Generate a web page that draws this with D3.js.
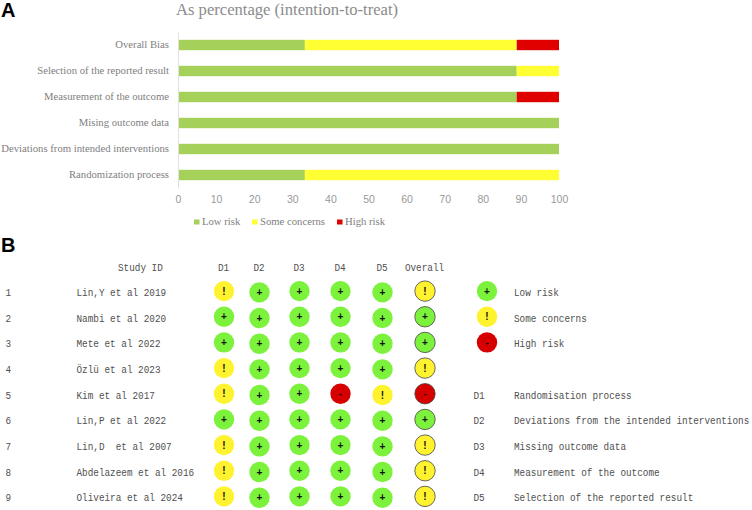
<!DOCTYPE html>
<html>
<head>
<meta charset="utf-8">
<script src="https://cdn.jsdelivr.net/npm/d3@7"></script>
<style>
html, body { margin: 0; padding: 0; background: #fff; }
svg { display: block; }
.mono { font-family: "Liberation Mono", monospace; fill: #505050; white-space: pre; }
.serif { font-family: "Liberation Serif", serif; fill: #808080; }
</style>
</head>
<body>
<script>
// panel A
var domains = ["Overall Bias", "Selection of the reported result", "Measurement of the outcome", "Mising outcome data", "Deviations from intended interventions", "Randomization process"];
var lowRisk = [33.3, 88.9, 88.9, 100, 100, 33.3];
var someConcerns = [55.6, 11.1, 0, 0, 0, 66.7];
var highRisk = [11.1, 0, 11.1, 0, 0, 0];
var xTicks = [0, 10, 20, 30, 40, 50, 60, 70, 80, 90, 100];
var riskNames = ["Low risk", "Some concerns", "High risk"];

// panel B
var studies = ["Lin,Y et al 2019", "Nambi et al 2020", "Mete et al 2022", "Özlü et al 2023", "Kim et al 2017", "Lin,P et al 2022", "Lin,D  et al 2007", "Abdelazeem et al 2016", "Oliveira et al 2024"];
var columns = ["D1", "D2", "D3", "D4", "D5", "Overall"];
var d1 = ["!", "+", "+", "!", "!", "+", "!", "!", "!"];
var d2 = ["+", "+", "+", "+", "+", "+", "+", "+", "+"];
var d3v = ["+", "+", "+", "+", "+", "+", "+", "+", "+"];
var d4 = ["+", "+", "+", "+", "-", "+", "+", "+", "+"];
var d5 = ["+", "+", "+", "+", "!", "+", "+", "+", "+"];
var overall = ["!", "+", "+", "!", "-", "+", "!", "!", "!"];
var domainKeys = ["D1", "D2", "D3", "D4", "D5"];
var domainNames = ["Randomisation process", "Deviations from the intended interventions", "Missing outcome data", "Measurement of the outcome", "Selection of the reported result"];

var width = 752, height = 510;
var svg = d3.select("body").append("svg").attr("width", width).attr("height", height);

var barColor = d3.scaleOrdinal().domain(riskNames).range(["#a5d05a", "#ffff33", "#e00000"]);
var dotColor = d3.scaleOrdinal().domain(["+", "!", "-"]).range(["#7cf23c", "#fff22e", "#d60000"]);

// panel labels
svg.append("text").attr("x", 1).attr("y", 17).text("A")
	.style("font", "bold 20px 'Liberation Sans'").style("fill", "#000");
svg.append("text").attr("x", 1).attr("y", 252).text("B")
	.style("font", "bold 20px 'Liberation Sans'").style("fill", "#000");

svg.append("text").attr("class", "serif").attr("x", 176).attr("y", 14.5).style("font-size", "16.6px")
	.style("fill", "#8c8c8c").text("As percentage (intention-to-treat)");

var x = d3.scaleLinear().domain([0, 100]).range([178, 559]);
var y = d3.scaleBand().domain(domains).range([32, 188]).paddingInner(0.6).paddingOuter(0.3);

var rows = domains.map(function(d, i) {
	return {name: d, "Low risk": lowRisk[i], "Some concerns": someConcerns[i], "High risk": highRisk[i]};
});
var stacked = d3.stack().keys(riskNames)(rows);

svg.append("g").selectAll("g").data(stacked).enter().append("g")
	.attr("fill", function(s) { return barColor(s.key); })
	.selectAll("rect").data(function(s) { return s; }).enter().append("rect")
	.attr("x", function(d) { return x(d[0]); })
	.attr("y", function(d) { return y(d.data.name); })
	.attr("width", function(d) { return x(d[1]) - x(d[0]); })
	.attr("height", y.bandwidth());

var yAxis = svg.append("g").attr("transform", "translate(178,0)").call(d3.axisLeft(y).tickSize(0).tickPadding(9));
yAxis.select(".domain").attr("stroke", "#e2e2e2");
yAxis.selectAll("text").attr("class", "serif").style("font-size", "10.7px");

var xAxis = svg.append("g").attr("transform", "translate(0,188)").call(d3.axisBottom(x).tickValues(xTicks).tickSize(0).tickPadding(8));
xAxis.select(".domain").remove();
xAxis.selectAll("text").style("font", "10.5px 'Liberation Sans'").style("fill", "#999");

// legend of panel A
var legendX = d3.scaleOrdinal().domain(riskNames).range([194, 252, 337]);
var legendA = svg.append("g").selectAll("g").data(riskNames).enter().append("g")
	.attr("transform", function(d) { return "translate(" + legendX(d) + ",219.5)"; });
legendA.append("rect").attr("width", 5.5).attr("height", 5).attr("fill", function(d) { return barColor(d); });
legendA.append("text").attr("class", "serif").attr("x", 8).attr("y", 5.5).style("font-size", "10.7px").text(function(d) { return d; });

// panel B table
var colX = d3.scaleOrdinal().domain(columns).range([224, 259.5, 299.5, 340.5, 382.5, 425]);
var colShift = d3.scaleOrdinal().domain(columns).range([0, 1.3, 0, 0, 1.3, 0]);
var rowY = d3.scalePoint().domain(studies).range([292.3, 497.6]);
var table = [d1, d2, d3v, d4, d5, overall];

// tall narrow type: Liberation Mono squeezed to the cell width of the original
function mono(sel) {
	sel.attr("class", "mono").style("font-size", "11.2px").attr("dy", "0.33em");
	sel.each(function() {
		var t = d3.select(this);
		t.attr("transform", "translate(" + t.attr("x") + "," + t.attr("y") + ") scale(0.835,1)")
			.attr("x", 0).attr("y", 0);
	});
	return sel;
}

mono(svg.append("text").attr("x", 118).attr("y", 267).text("Study ID"));
mono(svg.append("g").selectAll("text").data(columns).enter().append("text")
	.attr("x", function(d) { return colX(d) - 0.5; }).attr("y", 267)
	.attr("text-anchor", "middle").text(function(d) { return d; }));
mono(svg.append("g").selectAll("text").data(studies).enter().append("text")
	.attr("x", 5.5).attr("y", function(d) { return rowY(d); })
	.text(function(d, i) { return i + 1; }));
mono(svg.append("g").selectAll("text").data(studies).enter().append("text")
	.attr("x", 76.5).attr("y", function(d) { return rowY(d); })
	.text(function(d) { return d; }));

function dot(g, symbol, r) {
	g.append("circle").attr("r", r).attr("fill", dotColor(symbol));
	g.append("text").attr("text-anchor", "middle").attr("dy", "0.35em")
		.style("font", "bold 10px 'Liberation Sans'").style("fill", "#111").text(symbol);
}

columns.forEach(function(c, j) {
	studies.forEach(function(s, i) {
		var g = svg.append("g").attr("transform", "translate(" + colX(c) + "," + (rowY(s) - 1.2 + colShift(c)) + ")");
		dot(g, table[j][i], 10.2);
		if (c == "Overall") g.select("circle").attr("stroke", "#444").attr("stroke-width", 0.8);
	});
});

// legend of panel B
var keyRows = ["+", "!", "-"];
keyRows.forEach(function(k, i) {
	var g = svg.append("g").attr("transform", "translate(487," + (rowY(studies[i]) - 1.2) + ")");
	dot(g, k, 10.2);
	mono(svg.append("text").attr("x", 514).attr("y", rowY(studies[i])).text(riskNames[i]));
});
domainKeys.forEach(function(k, i) {
	var yy = rowY(studies[i + 4]);
	mono(svg.append("text").attr("x", 473.5).attr("y", yy).text(k));
	mono(svg.append("text").attr("x", 514).attr("y", yy).text(domainNames[i]));
});
</script>
</body>
</html>
